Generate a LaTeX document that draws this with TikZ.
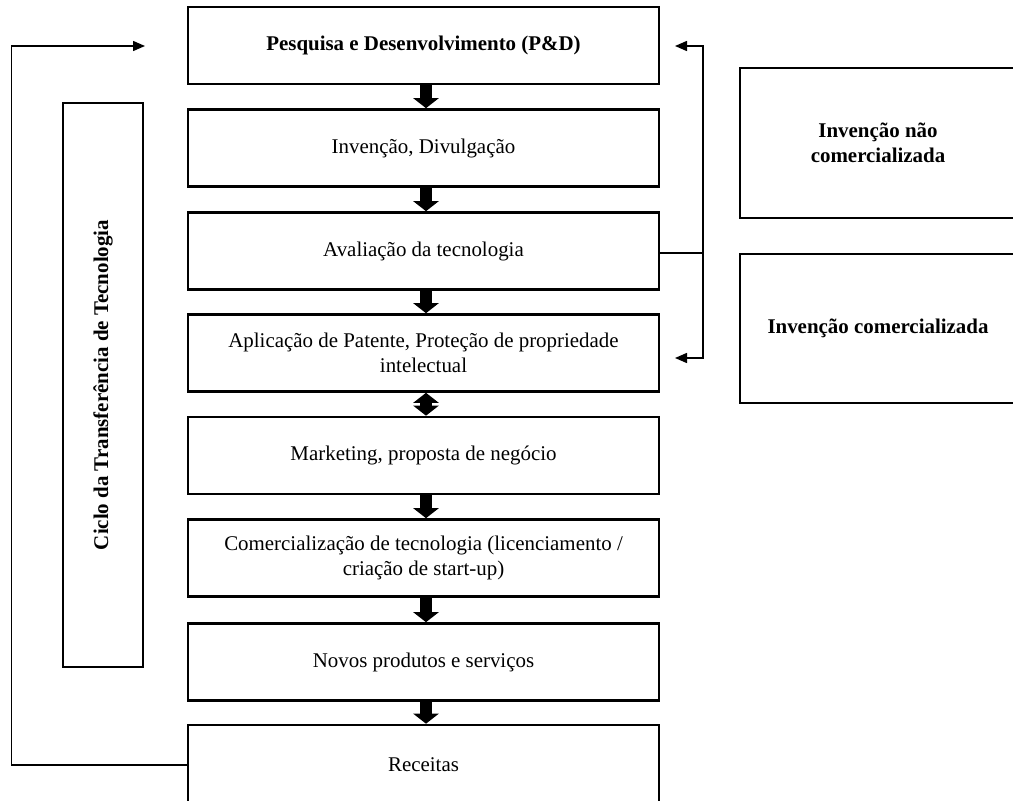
\documentclass[tikz,border=0pt]{standalone}
\usepackage{fontspec}
\setmainfont{Liberation Serif}
\usetikzlibrary{arrows.meta}
\begin{document}
\begin{tikzpicture}[x=1bp,y=-1bp,
  box/.style={draw=black,line width=2.6bp,rectangle,minimum width=471bp,minimum height=77bp,inner sep=0pt,align=center,font=\fontsize{21}{25}\selectfont},
  sidebox/.style={draw=black,line width=2.6bp,rectangle,inner sep=0pt,align=center,font=\fontsize{21}{25}\selectfont\bfseries},
  blk/.style={line width=12bp,-{Triangle[length=10bp,width=25bp]}},
  dblk/.style={line width=12bp,{Triangle[length=10bp,width=25bp]}-{Triangle[length=10bp,width=25bp]}},
  conn/.style={line width=1.5bp},
  carr/.style={line width=1.5bp,-{Triangle[length=12bp,width=10bp]}}]
\useasboundingbox (0,0) rectangle (1013,801);
\node[box,font=\fontsize{21}{25}\selectfont\bfseries] (pd) at (423.5,45.5) {Pesquisa e Desenvolvimento (P\&D)};
\node[box] (b2) at (423.5,148) {Invenção, Divulgação};
\node[box] (b3) at (423.5,251) {Avaliação da tecnologia};
\node[box] (b4) at (423.5,353) {Aplicação de Patente, Proteção de propriedade\\intelectual};
\node[box] (b5) at (423.5,455.5) {Marketing, proposta de negócio};
\node[box] (b6) at (423.5,558) {Comercialização de tecnologia (licenciamento /\\criação de start-up)};
\node[box] (b7) at (423.5,662) {Novos produtos e serviços};
\node[box,minimum height=80bp] (b8) at (423.5,765) {Receitas};
\node[sidebox,minimum width=80bp,minimum height=564bp] (ciclo) at (103,385) {};
\node[font=\fontsize{21}{25}\selectfont\bfseries,rotate=90] (ciclot) at (ciclo.center) {Ciclo da Transferência de Tecnologia};
\node[sidebox,minimum width=276bp,minimum height=150bp] (nc) at (878,143) {Invenção não\\comercializada};
\node[sidebox,minimum width=276bp,minimum height=149bp] (ic) at (878,328.5) {Invenção comercializada};
\coordinate (ax) at (426,0);
\draw[blk] (pd.south -| ax) -- (b2.north -| ax);
\draw[blk] (b2.south -| ax) -- (b3.north -| ax);
\draw[blk] (b3.south -| ax) -- (b4.north -| ax);
\draw[dblk] (b4.south -| ax) -- (b5.north -| ax);
\draw[blk] (b5.south -| ax) -- (b6.north -| ax);
\draw[blk] (b6.south -| ax) -- (b7.north -| ax);
\draw[blk] (b7.south -| ax) -- (b8.north -| ax);
\coordinate (rj) at (703,253);
\coordinate (t1) at (675,46);
\coordinate (t2) at (675,358);
\draw[conn] (b3.east |- rj) -- (rj);
\draw[carr] (rj) |- (t1);
\draw[carr] (rj) |- (t2);
\coordinate (l1) at (145,46);
\draw[carr] (b8.west) -- ++(-175,0) |- (l1);
\end{tikzpicture}
\end{document}
